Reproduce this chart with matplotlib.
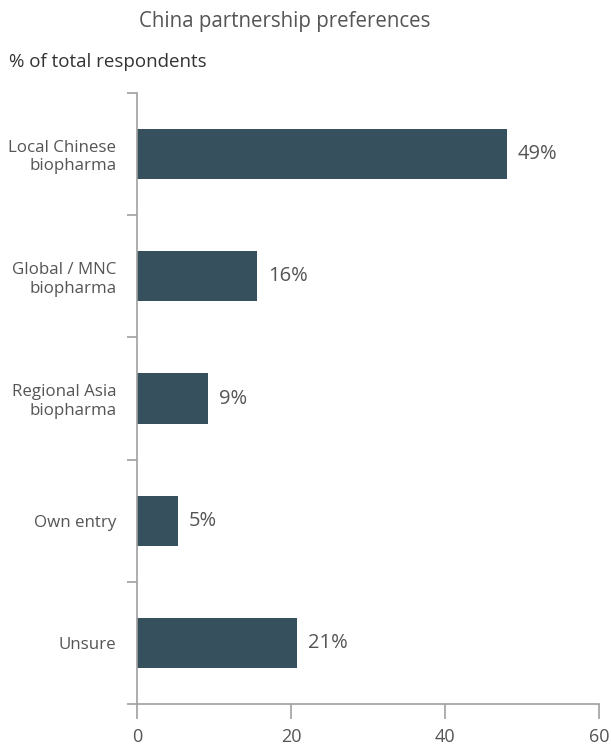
import numpy as np
import matplotlib.pyplot as plt

categories = ["Local Chinese\nbiopharma", "Global / MNC\nbiopharma", "Regional Asia\nbiopharma",
              "Own entry", "Unsure"]
values = [48.0, 15.6, 9.2, 5.3, 20.8]
value_labels = ["49%", "16%", "9%", "5%", "21%"]
x_ticks = [0, 20, 40, 60]

BAR_COLOR = "#37505e"
TEXT_COLOR = "#555555"
AXIS_COLOR = "#a0a0a0"

plt.rcParams['font.family'] = ['Open Sans', 'DejaVu Sans']

fig = plt.figure(figsize=(6.11, 7.45), dpi=100)
ax = fig.add_axes([137 / 611, 1 - 704 / 745, 462 / 611, 611 / 745])

y = np.arange(len(categories))
ax.barh(y, values, height=0.41, color=BAR_COLOR)
for yi, v, lab in zip(y, values, value_labels):
    ax.text(v + 1.4, yi, lab, va="center", ha="left", fontsize=14.5, color=TEXT_COLOR)

ax.set_xlim(0, 60)
ax.set_ylim(len(categories) - 0.5, -0.5)
ax.set_xticks(x_ticks)
ax.set_xticklabels([str(t) for t in x_ticks])
ax.set_yticks(y)
ax.set_yticklabels(categories, multialignment="right")
ax.set_yticks(np.arange(-0.5, len(categories)), minor=True)

ax.tick_params(axis="y", which="major", length=0, pad=15, labelsize=12.2, labelcolor=TEXT_COLOR)
ax.tick_params(axis="y", which="minor", length=7, color=AXIS_COLOR, width=1.2)
ax.tick_params(axis="x", length=11, color=AXIS_COLOR, width=1.2, labelsize=13,
               labelcolor=TEXT_COLOR, pad=6)

for s in ["top", "right"]:
    ax.spines[s].set_visible(False)
for s in ["left", "bottom"]:
    ax.spines[s].set_color(AXIS_COLOR)
    ax.spines[s].set_linewidth(1.2)

fig.text(285 / 611, 1 - 22 / 745, "China partnership preferences", ha="center", va="center",
         fontsize=14.8, color=TEXT_COLOR)
fig.text(9 / 611, 1 - 62 / 745, "% of total respondents", ha="left", va="center",
         fontsize=13.5, color="#333333")

fig.savefig("out.png", dpi=100)
